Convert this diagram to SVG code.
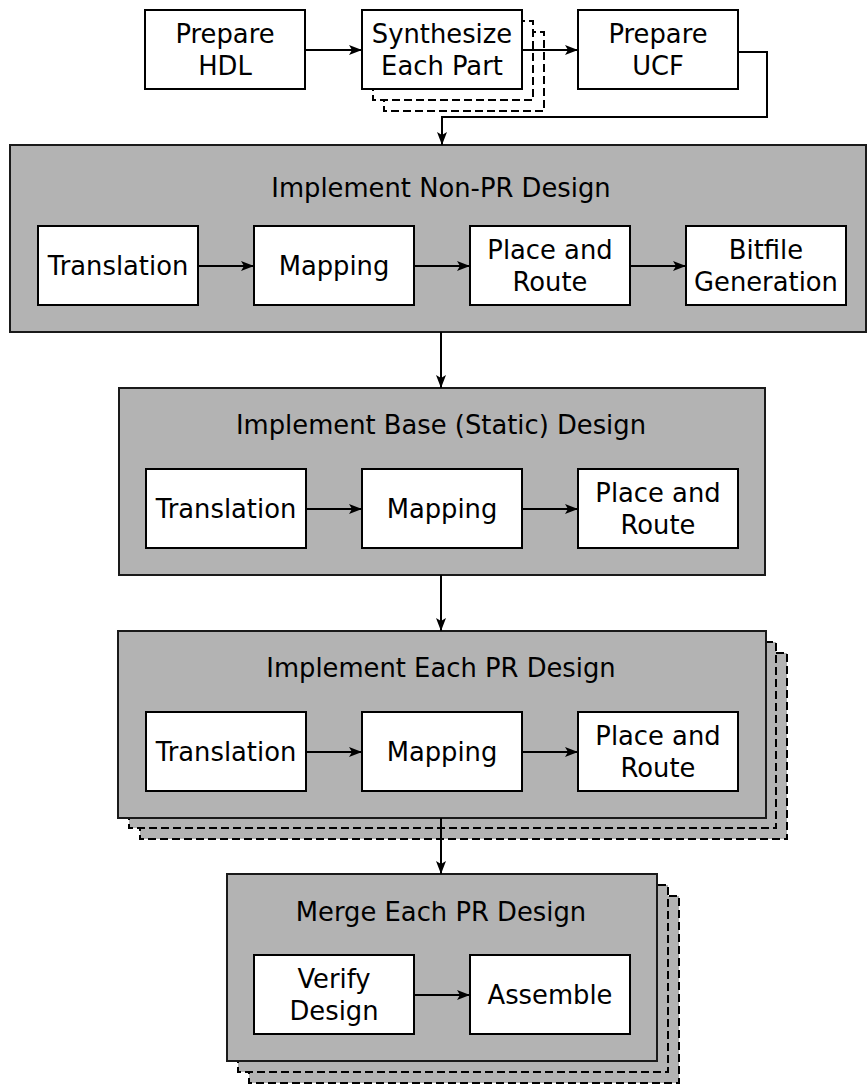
<svg xmlns="http://www.w3.org/2000/svg" width="867" height="1084" viewBox="0 0 867 1084">
  <style>
    .step { fill: #ffffff; stroke: #000000; stroke-width: 2; }
    .stage { fill: #b3b3b3; stroke: #1a1a1a; stroke-width: 2; }
    .copy { fill: #ffffff; stroke: #000000; stroke-width: 2; stroke-dasharray: 8 4; }
    .copy-stage { fill: #b3b3b3; stroke: #000000; stroke-width: 2; stroke-dasharray: 8 4; }
    .arrow { fill: none; stroke: #000000; stroke-width: 2; marker-end: url(#head); }
    text { font-family: "DejaVu Sans", "Liberation Sans", sans-serif; font-size: 25.8px; fill: #000000; text-anchor: middle; }
  </style>
  <defs>
    <marker id="head" viewBox="0 0 13 10" refX="13" refY="5" markerWidth="13" markerHeight="10" markerUnits="userSpaceOnUse" orient="auto">
      <path d="M0,0 L13,5 L0,10 L3,5 Z" fill="#000000"/>
    </marker>
  </defs>

  <!-- top row -->
  <g id="prepare-hdl">
    <rect class="step" x="145" y="10" width="160" height="79"/>
    <text x="225" y="43">Prepare</text>
    <text x="225" y="75">HDL</text>
  </g>
  <g id="synthesize">
    <rect class="copy" x="384" y="32" width="160" height="79"/>
    <rect class="copy" x="373" y="21" width="160" height="79"/>
    <rect class="step" x="362" y="10" width="160" height="79"/>
    <text x="442" y="43">Synthesize</text>
    <text x="442" y="75">Each Part</text>
  </g>
  <g id="prepare-ucf">
    <rect class="step" x="578" y="10" width="160" height="79"/>
    <text x="658" y="43">Prepare</text>
    <text x="658" y="75">UCF</text>
  </g>

  <!-- stage 1 -->
  <g id="non-pr">
    <rect class="stage" x="10" y="145" width="856" height="187"/>
    <text x="441" y="197">Implement Non-PR Design</text>
  </g>
  <g id="np-translation">
    <rect class="step" x="38" y="226" width="160" height="79"/>
    <text x="118" y="275">Translation</text>
  </g>
  <g id="np-mapping">
    <rect class="step" x="254" y="226" width="160" height="79"/>
    <text x="334" y="275">Mapping</text>
  </g>
  <g id="np-par">
    <rect class="step" x="470" y="226" width="160" height="79"/>
    <text x="550" y="259">Place and</text>
    <text x="550" y="291">Route</text>
  </g>
  <g id="np-bitfile">
    <rect class="step" x="686" y="226" width="160" height="79"/>
    <text x="766" y="259">Bitfile</text>
    <text x="766" y="291">Generation</text>
  </g>

  <!-- stage 2 -->
  <g id="base">
    <rect class="stage" x="119" y="388" width="646" height="187"/>
    <text x="441" y="434">Implement Base (Static) Design</text>
  </g>
  <g id="base-translation">
    <rect class="step" x="146" y="469" width="160" height="79"/>
    <text x="226" y="518">Translation</text>
  </g>
  <g id="base-mapping">
    <rect class="step" x="362" y="469" width="160" height="79"/>
    <text x="442" y="518">Mapping</text>
  </g>
  <g id="base-par">
    <rect class="step" x="578" y="469" width="160" height="79"/>
    <text x="658" y="502">Place and</text>
    <text x="658" y="534">Route</text>
  </g>

  <!-- stage 3 -->
  <g id="each-pr">
    <rect class="copy-stage" x="140" y="653" width="647" height="186"/>
    <rect class="copy-stage" x="129" y="642" width="647" height="186"/>
    <rect class="stage" x="118" y="631" width="648" height="187"/>
    <text x="441" y="677">Implement Each PR Design</text>
  </g>
  <g id="pr-translation">
    <rect class="step" x="146" y="712" width="160" height="79"/>
    <text x="226" y="761">Translation</text>
  </g>
  <g id="pr-mapping">
    <rect class="step" x="362" y="712" width="160" height="79"/>
    <text x="442" y="761">Mapping</text>
  </g>
  <g id="pr-par">
    <rect class="step" x="578" y="712" width="160" height="79"/>
    <text x="658" y="745">Place and</text>
    <text x="658" y="777">Route</text>
  </g>

  <!-- stage 4 -->
  <g id="merge">
    <rect class="copy-stage" x="249" y="896" width="430" height="187"/>
    <rect class="copy-stage" x="238" y="885" width="430" height="187"/>
    <rect class="stage" x="227" y="874" width="430" height="187"/>
    <text x="441" y="921">Merge Each PR Design</text>
  </g>
  <g id="verify">
    <rect class="step" x="254" y="955" width="160" height="79"/>
    <text x="334" y="988">Verify</text>
    <text x="334" y="1020">Design</text>
  </g>
  <g id="assemble">
    <rect class="step" x="470" y="955" width="160" height="79"/>
    <text x="550" y="1004">Assemble</text>
  </g>

  <!-- connectors -->
  <g id="connectors">
    <path class="arrow" d="M305,50 H362"/>
    <path class="arrow" d="M522,50 H578"/>
    <path class="arrow" d="M738,52 H767 V117 H442 V145"/>
    <path class="arrow" d="M198,266 H254"/>
    <path class="arrow" d="M414,266 H470"/>
    <path class="arrow" d="M630,266 H686"/>
    <path class="arrow" d="M441,332 V388"/>
    <path class="arrow" d="M306,509 H362"/>
    <path class="arrow" d="M522,509 H578"/>
    <path class="arrow" d="M441,575 V631"/>
    <path class="arrow" d="M306,752 H362"/>
    <path class="arrow" d="M522,752 H578"/>
    <path class="arrow" d="M441,818 V874"/>
    <path class="arrow" d="M414,995 H470"/>
  </g>
</svg>
